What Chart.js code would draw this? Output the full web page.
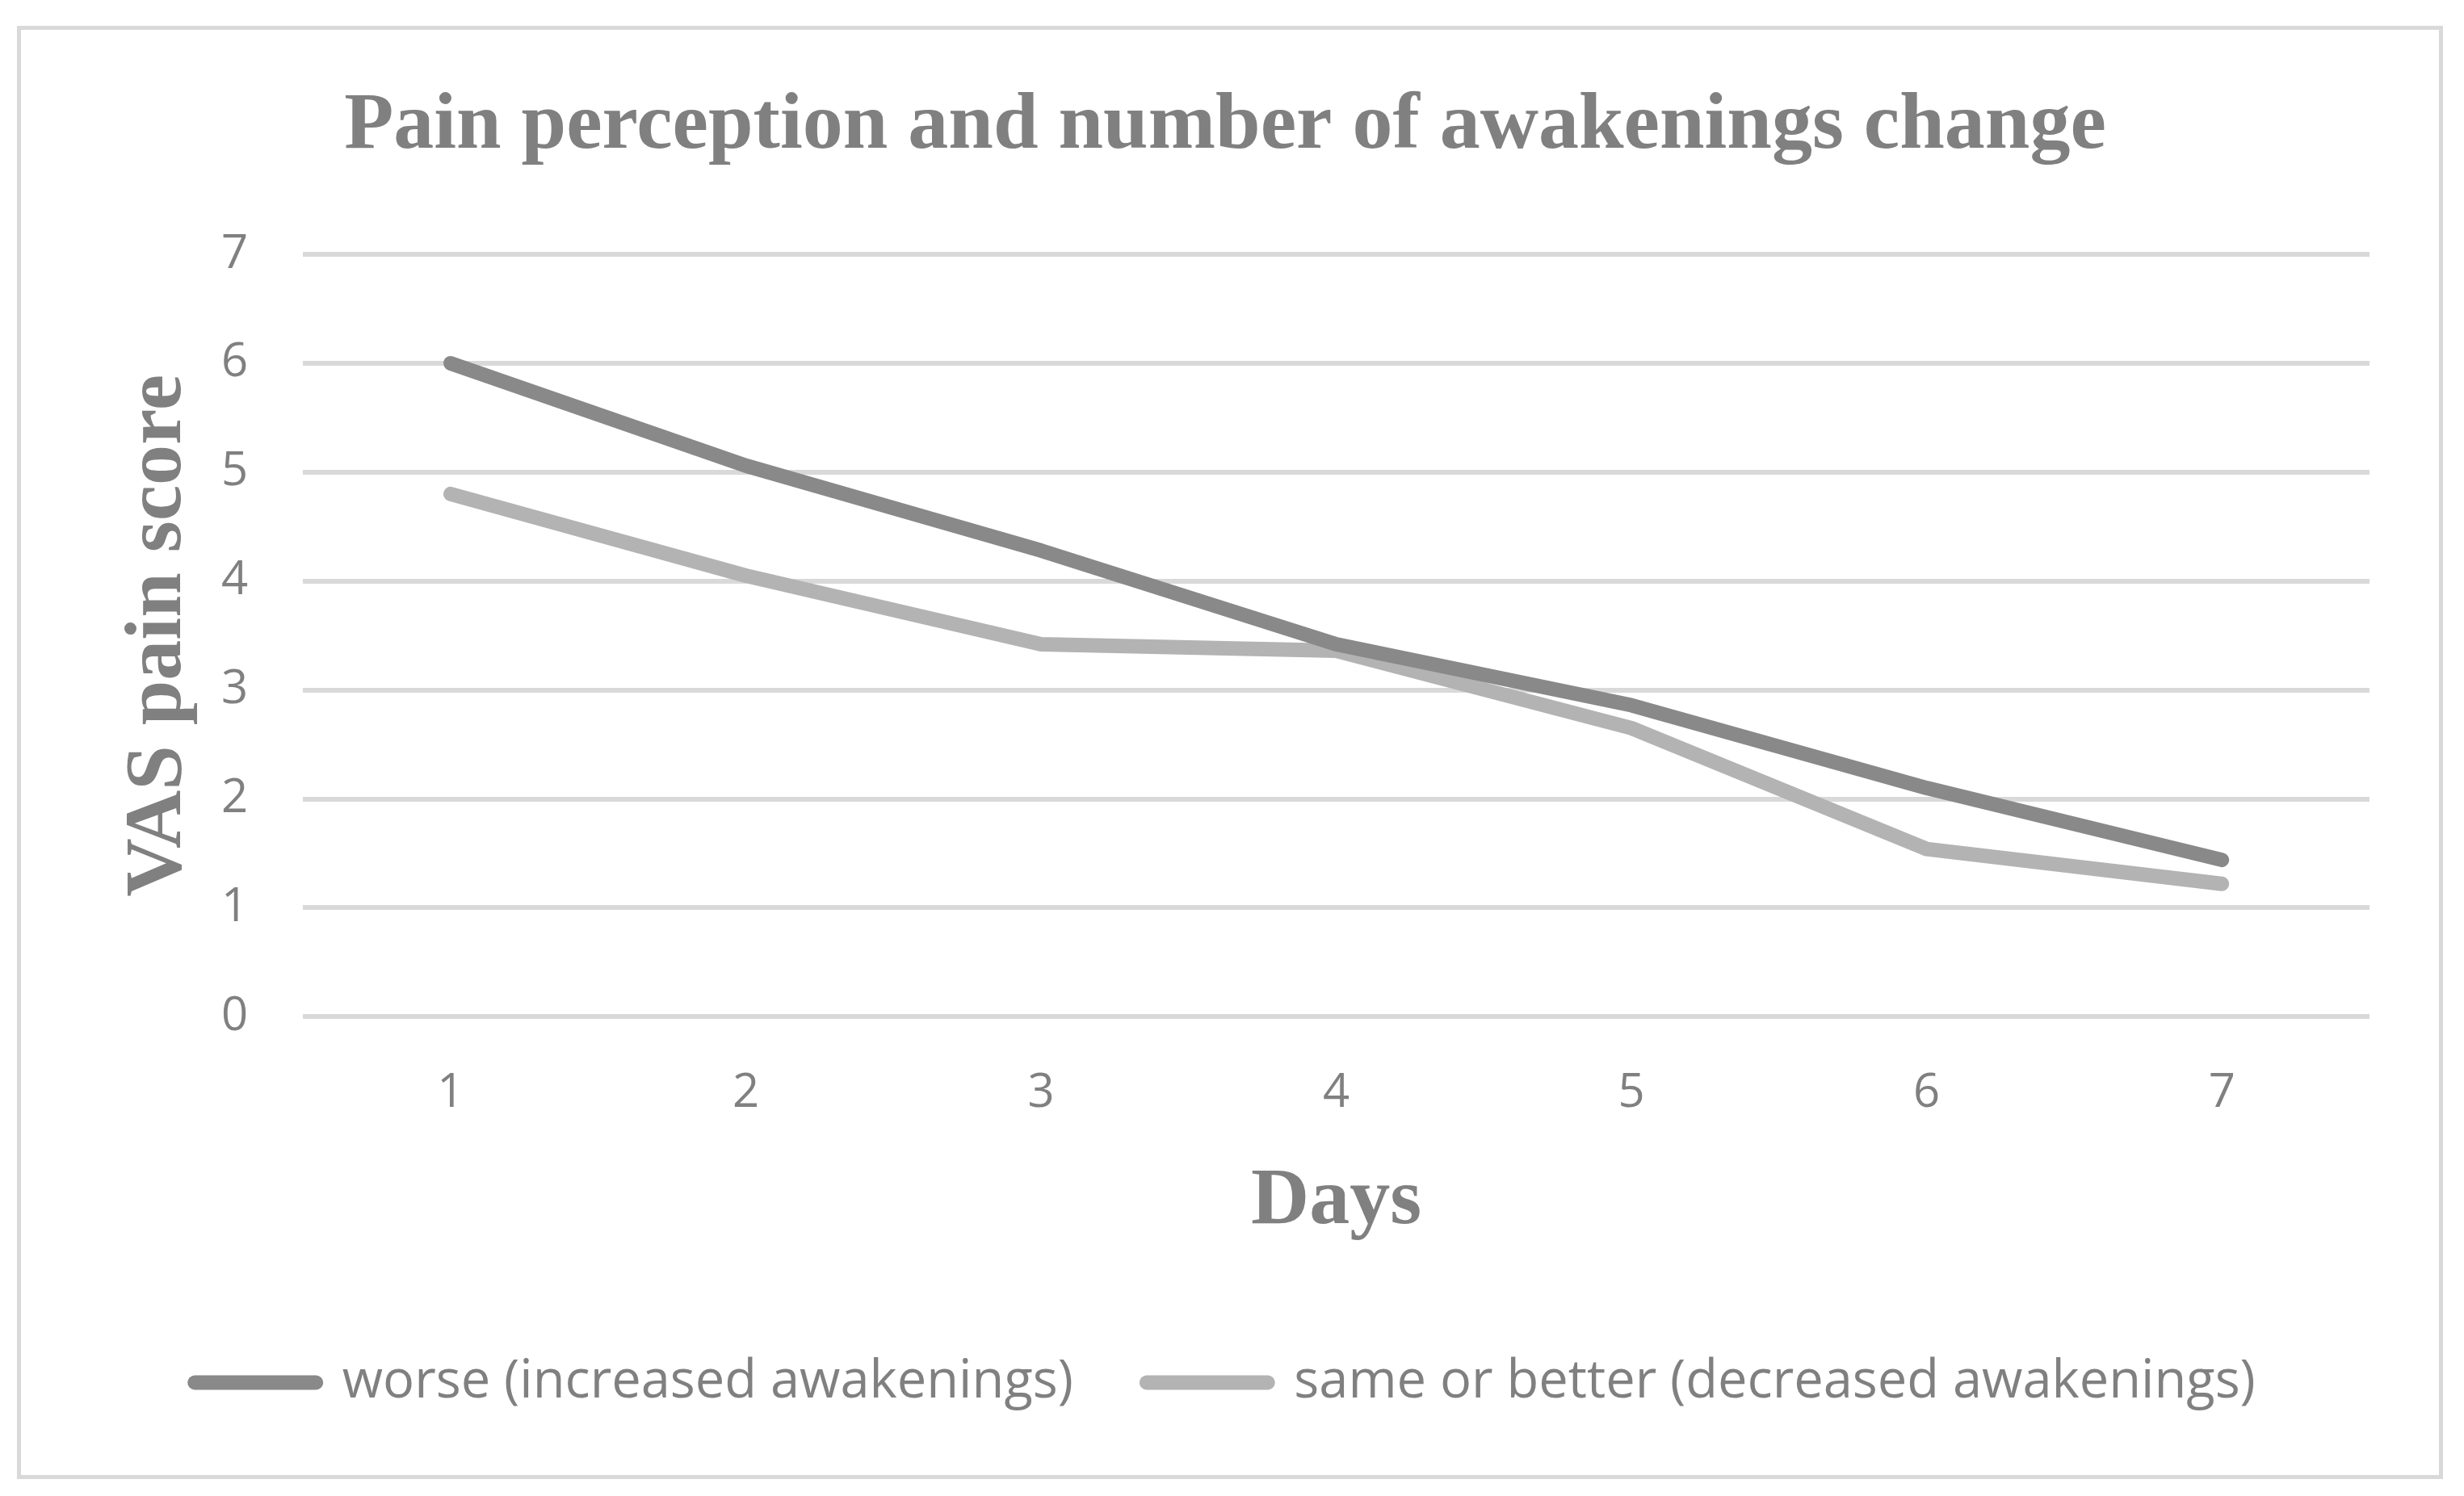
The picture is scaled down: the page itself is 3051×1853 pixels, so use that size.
<!DOCTYPE html>
<html>
<head>
<meta charset="utf-8">
<script src="https://cdn.jsdelivr.net/npm/chart.js@4/dist/chart.umd.min.js"></script>
<style>
  html, body { margin: 0; padding: 0; background: #fff; }
  #frame {
    position: absolute; left: 21px; top: 32px; width: 3004px; height: 1800px;
    box-sizing: border-box; border: 5px solid #d9d9d9;
  }
  #wrap { position: absolute; left: 0; top: 0; width: 3051px; height: 1853px; }
</style>
</head>
<body>
<div id="frame"></div>
<div id="wrap"><canvas id="chart"></canvas></div>
<script>
const days = ["1", "2", "3", "4", "5", "6", "7"];
const worse = [6.0, 5.06, 4.28, 3.42, 2.86, 2.1, 1.44];
const sameOrBetter = [4.8, 4.05, 3.42, 3.36, 2.65, 1.54, 1.22];
const yTicks = [0, 1, 2, 3, 4, 5, 6, 7];

const textGrey = "#808080";
const serifBold = { family: "Liberation Serif", size: 100, weight: "bold" };
const sans = { family: "Open Sans", size: 58 };
const legendFont = { family: "Open Sans", size: 65 };

// legend keys drawn as short thick lines with round ends, like the data lines
function legendLabels(chart) {
  return Chart.defaults.plugins.legend.labels.generateLabels(chart)
    .map(item => ({ ...item, lineCap: "round", lineWidth: 18 }));
}

new Chart(document.getElementById("chart"), {
  type: "line",
  data: {
    labels: days,
    datasets: [
      {
        label: "worse (increased awakenings)",
        data: worse,
        borderColor: "#898989",
        backgroundColor: "#898989",
        borderWidth: 18,
        borderCapStyle: "round",
        borderJoinStyle: "round",
        pointRadius: 0,
        pointStyle: "line",
        tension: 0
      },
      {
        label: "same or better (decreased awakenings)",
        data: sameOrBetter,
        borderColor: "#b3b3b3",
        backgroundColor: "#b3b3b3",
        borderWidth: 18,
        borderCapStyle: "round",
        borderJoinStyle: "round",
        pointRadius: 0,
        pointStyle: "line",
        tension: 0
      }
    ]
  },
  options: {
    responsive: true,
    maintainAspectRatio: false,
    animation: false,
    layout: { padding: { left: 100, right: 117, top: 0, bottom: 98 } },
    plugins: {
      title: {
        display: true,
        text: "Pain perception and number of awakenings change",
        color: textGrey,
        font: serifBold,
        padding: { top: 97, bottom: 98 }
      },
      legend: {
        position: "bottom",
        labels: {
          usePointStyle: true,
          pointStyleWidth: 150,
          padding: 91,
          color: textGrey,
          font: legendFont,
          generateLabels: legendLabels
        }
      },
      tooltip: { enabled: false }
    },
    scales: {
      x: {
        offset: true,
        grid: { display: false, drawTicks: false },
        border: { display: false },
        ticks: { color: textGrey, font: sans, padding: 60 },
        title: {
          display: true,
          text: "Days",
          color: textGrey,
          font: serifBold,
          padding: { top: -20, bottom: 40 }
        }
      },
      y: {
        min: 0,
        max: 7,
        afterBuildTicks: (axis) => { axis.ticks = yTicks.map(v => ({ value: v })); },
        grid: { color: "#d9d9d9", lineWidth: 6, drawTicks: false },
        border: { display: false },
        ticks: { color: textGrey, font: sans, padding: 68 },
        title: {
          display: true,
          text: "VAS pain score",
          color: textGrey,
          font: serifBold,
          padding: { top: 37, bottom: -51 }
        }
      }
    }
  }
});
</script>
</body>
</html>
